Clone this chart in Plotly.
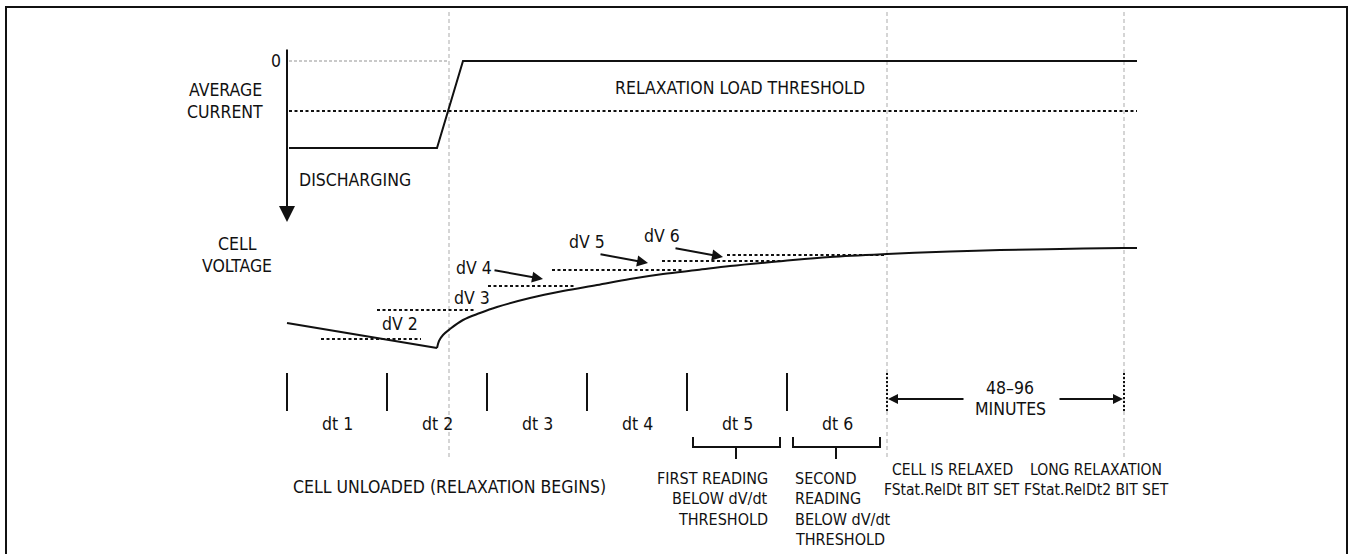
import plotly.graph_objects as go

W, H = 1349, 554

# ---------------- data (diagram units: x = time position, y = level on page) ----------------
# average current trace
current_t = [289, 437, 463, 1137]
current_level = [148, 148, 61, 61]
zero_ref_t = [289, 449]
zero_level = 61
threshold_t = [289, 1137]
threshold_level = 111

# cell voltage: discharge then relaxation recovery
discharge_t = [287, 437]
discharge_v = [323, 348]
relax_t = [437, 439, 443, 450, 463, 480, 497, 530, 563, 597, 630, 663, 697, 730,
           783, 830, 887, 950, 1000, 1060, 1123, 1137]
relax_v = [348, 341, 335, 329, 320, 313, 307, 298, 291, 285, 279, 274, 270, 266,
           261, 257, 254, 251.5, 250, 249, 248, 248]

# dV sample-level dashed lines
step_x0 = [321, 377, 488, 552, 662, 727]
step_x1 = [421, 476, 575, 682, 783, 886]
step_level = [339, 310, 286, 270, 261, 255]

# dV labels
dv_names = ["dV 2", "dV 3", "dV 4", "dV 5", "dV 6"]
dv_label_x = [400, 472, 474, 587, 662]
dv_label_y = [324, 298, 268, 242, 236]
# arrows for dV 4..6
dv_arrow_tail_x = [493, 599, 674]
dv_arrow_tail_y = [270, 254, 248]
dv_arrow_head_x = [543, 648, 723]
dv_arrow_head_y = [279, 263, 257]

# dt intervals
interval_edges = [287, 387, 487, 587, 687, 787, 887]
interval_labels = ["dt 1", "dt 2", "dt 3", "dt 4", "dt 5", "dt 6"]
tick_top, tick_bottom = 373, 411
label_row = 424

# event markers (unloaded, relaxed, long relaxed)
event_t = [449, 887, 1124]
event_top, event_bottom = 12, 458

# brackets under dt 5 / dt 6
bracket_x0 = [693, 793]
bracket_x1 = [780, 880]
bracket_mid = [736, 836]
bracket_top, bracket_base, bracket_stem = 437, 447, 459

# text blocks
first_lines = ["FIRST READING", "BELOW dV/dt", "THRESHOLD"]
second_lines = ["SECOND", "READING", "BELOW dV/dt", "THRESHOLD"]
relaxed_lines = ["CELL IS RELAXED", "FStat.RelDt BIT SET"]
long_lines = ["LONG RELAXATION", "FStat.RelDt2 BIT SET"]
minutes_lines = ["48\u201396", "MINUTES"]

FONT = "DejaVu Sans Condensed, Liberation Sans Narrow, Arial Narrow, sans-serif"
FS = 17.5
FS_SMALL = 15.5
BLACK = "#111111"
GRAY = "#c8c8c8"

fig = go.Figure()


def line(xs, ys, color=BLACK, width=2, dash="solid", shape="linear"):
    fig.add_trace(go.Scatter(x=xs, y=ys, mode="lines",
                             line=dict(color=color, width=width, dash=dash, shape=shape),
                             hoverinfo="skip", showlegend=False))


# event gray dashed verticals
for t in event_t:
    line([t, t], [event_top, event_bottom], color=GRAY, width=1.5, dash="4px,3px")

# zero reference gray dotted
line(zero_ref_t, [zero_level, zero_level], color="#b8b8b8", width=1.5, dash="3px,2px")
# threshold dotted
line(threshold_t, [threshold_level, threshold_level], width=2, dash="3px,2.5px")
# current trace
line(current_t, current_level, width=2)

# voltage
line(discharge_t, discharge_v, width=2)
line(relax_t, relax_v, width=2, shape="spline")
for x0, x1, lv in zip(step_x0, step_x1, step_level):
    line([x0, x1], [lv, lv], width=2, dash="3px,2.5px")

# interval ticks
for t in interval_edges[:-1]:
    line([t, t], [tick_top, tick_bottom], width=2)
# dotted black markers at relaxed events
for t in event_t[1:]:
    line([t, t], [tick_top, tick_bottom], width=2, dash="2px,2px")

# brackets
for x0, x1, xm in zip(bracket_x0, bracket_x1, bracket_mid):
    line([x0, x0, x1, x1], [bracket_top, bracket_base, bracket_base, bracket_top], width=2)
    line([xm, xm], [bracket_base, bracket_stem], width=2)

ann = []


def text(x, y, s, xanchor="center", size=FS):
    ann.append(dict(x=x, y=y, xref="x", yref="y", text=s, showarrow=False,
                    xanchor=xanchor, yanchor="middle",
                    font=dict(family=FONT, size=size, color=BLACK)))


def arrow(x0, y0, x1, y1, size=1.0):
    ann.append(dict(x=x1, y=y1, ax=x0, ay=y0, xref="x", yref="y", axref="x", ayref="y",
                    text="", showarrow=True, arrowhead=2, arrowsize=size,
                    arrowwidth=2, arrowcolor=BLACK, standoff=0, startstandoff=0))


# current axis with arrow
arrow(287, 48, 287, 222, size=1.6)
text(283, zero_level, "0", xanchor="right")
text(225, 90, "AVERAGE")
text(225, 112, "CURRENT")
text(297, 180, "DISCHARGING", xanchor="left")
text(740, 88, "RELAXATION LOAD THRESHOLD")

# voltage labels
text(237, 244, "CELL")
text(237, 266, "VOLTAGE")
for nm, lx, ly in zip(dv_names, dv_label_x, dv_label_y):
    text(lx, ly, nm)
for tx, ty, hx, hy in zip(dv_arrow_tail_x, dv_arrow_tail_y, dv_arrow_head_x, dv_arrow_head_y):
    arrow(tx, ty, hx, hy, size=1.1)

# dt labels
for i, lab in enumerate(interval_labels):
    text((interval_edges[i] + interval_edges[i + 1]) / 2, label_row, lab)

# 48-96 minutes
text(1010, 388, minutes_lines[0])
text(1010, 409, minutes_lines[1])
arrow(965, 399, event_t[1] + 1, 399)
arrow(1058, 399, event_t[2] - 1, 399)

# bottom texts
text(449, 487, "CELL UNLOADED (RELAXATION BEGINS)")
for i, s in enumerate(first_lines):
    text(770, 478 + 20.5 * i, s, xanchor="right", size=FS_SMALL + 0.5)
for i, s in enumerate(second_lines):
    text(793, 478 + 20.5 * i, s, xanchor="left", size=FS_SMALL + 0.5)
for i, s in enumerate(relaxed_lines):
    text(952, 470 + 20 * i, s, size=FS_SMALL)
for i, s in enumerate(long_lines):
    text(1096, 470 + 20 * i, s, size=FS_SMALL)

fig.update_layout(
    width=W, height=H, margin=dict(l=0, r=0, t=0, b=0),
    paper_bgcolor="white", plot_bgcolor="white", showlegend=False,
    xaxis=dict(range=[0, W], visible=False, fixedrange=True),
    yaxis=dict(range=[H, 0], visible=False, fixedrange=True),
    annotations=ann,
    shapes=[dict(type="rect", xref="x", yref="y", x0=6, y0=7, x1=1347, y1=H + 10,
                 line=dict(color=BLACK, width=2), fillcolor="rgba(0,0,0,0)", layer="above")],
)

fig.write_html("out.html", config={"displayModeBar": False},
               post_script="document.body.style.margin='0';document.body.style.overflow='hidden';")
